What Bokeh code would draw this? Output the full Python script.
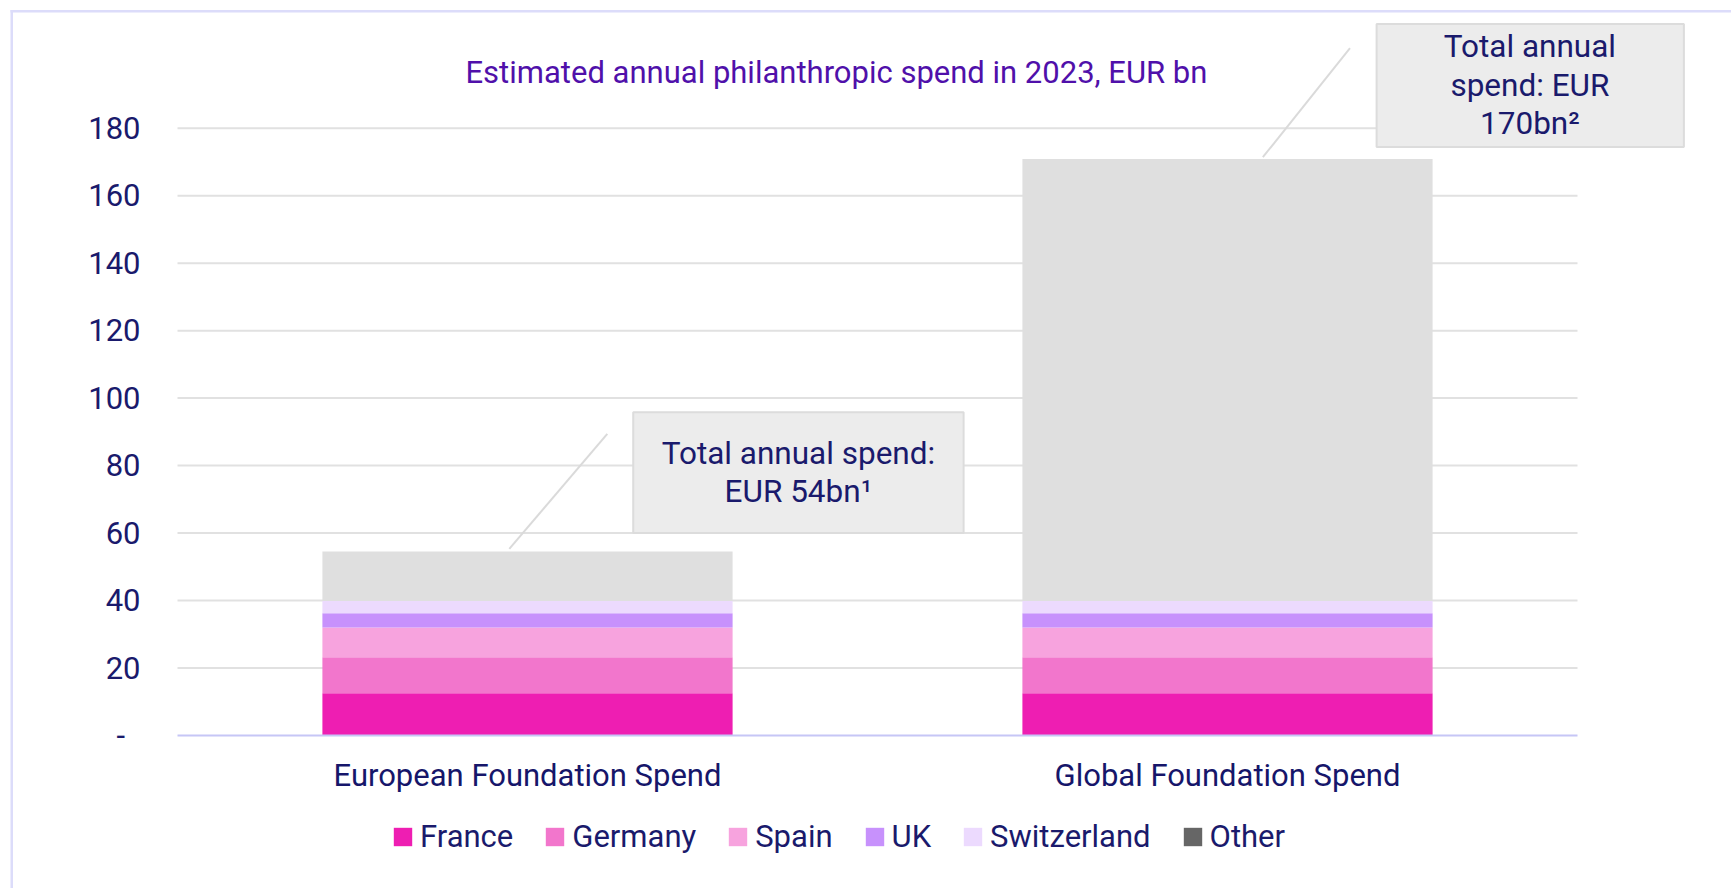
from bokeh.plotting import figure
from bokeh.models import (Range1d, FixedTicker, Legend, LegendItem,
                          BoxAnnotation, Label, Arrow, ColumnDataSource)
from bokeh.embed import file_html
from bokeh.resources import INLINE

# ---------------- data ----------------
categories = ["European Foundation Spend", "Global Foundation Spend"]
series = ["France", "Germany", "Spain", "UK", "Switzerland", "Other"]
france = [12.5, 12.5]
germany = [10.7, 10.7]
spain = [8.8, 8.8]
uk = [4.2, 4.2]
switzerland = [3.7, 3.7]
other = [14.6, 131.0]
totals_text = ["Total annual spend:\nEUR 54bn\u00b9", "Total annual\nspend: EUR\n170bn\u00b2"]
title_text = "Estimated annual philanthropic spend in 2023, EUR bn"
y_ticks = [0, 20, 40, 60, 80, 100, 120, 140, 160, 180]
y_tick_labels = {0: "-\u00a0\u00a0"}

# ---------------- layout / styles ----------------
W, H = 1731, 888
X0_PX, PX_PER_CAT = 177, 700          # where category axis starts, px per category
Y0_PX, PX_PER_UNIT = 735, 607.3 / 180  # baseline pixel row, px per EUR bn

bar_colors = ["#ee1eb2", "#f276cc", "#f7a3de", "#c791fc", "#ecdafe", "#dfdfdf"]
legend_colors = ["#ee1eb2", "#f276cc", "#f7a3de", "#c791fc", "#ecdafe", "#666666"]
NAVY = "#1a1a6c"
PURPLE = "#5010aa"
FONT = "Roboto"

cat_x = [i + 0.5 for i in range(len(categories))]
src = ColumnDataSource(dict(x=cat_x, France=france, Germany=germany, Spain=spain,
                            UK=uk, Switzerland=switzerland, Other=other))

x_range = Range1d(-X0_PX / PX_PER_CAT, (W - X0_PX) / PX_PER_CAT)
y_range = Range1d(-(H - Y0_PX) / PX_PER_UNIT, Y0_PX / PX_PER_UNIT)

p = figure(width=W, height=H, x_range=x_range, y_range=y_range,
           output_backend="svg", toolbar_location=None,
           min_border_left=0, min_border_right=0, min_border_top=0, min_border_bottom=0)
p.outline_line_color = None
p.background_fill_color = "white"
p.border_fill_color = "white"
p.xgrid.visible = False
p.ygrid.visible = False

# gridlines limited to the category span
grid_src = ColumnDataSource(dict(y=y_ticks[1:], x0=[0] * (len(y_ticks) - 1),
                                 x1=[len(categories)] * (len(y_ticks) - 1)))
p.segment(x0="x0", x1="x1", y0="y", y1="y", source=grid_src,
          line_color="#e1e1e1", line_width=2)

# y axis (fixed at x=0)
yax = p.yaxis[0]
yax.fixed_location = 0
yax.ticker = FixedTicker(ticks=y_ticks)
yax.major_label_overrides = y_tick_labels
yax.axis_line_color = None
yax.major_tick_line_color = None
yax.minor_tick_line_color = None
yax.major_tick_out = 0
yax.major_tick_in = 0
yax.major_label_standoff = 37
yax.major_label_text_font = FONT
yax.major_label_text_font_size = "31px"
yax.major_label_text_color = NAVY

# x axis (fixed at y=0)
xax = p.xaxis[0]
xax.fixed_location = 0
xax.ticker = FixedTicker(ticks=cat_x)
xax.major_label_overrides = {x: c for x, c in zip(cat_x, categories)}
xax.axis_line_color = None
xax.major_tick_line_color = None
xax.minor_tick_line_color = None
xax.major_tick_out = 0
xax.major_tick_in = 0
xax.major_label_standoff = 21
xax.major_label_text_font = FONT
xax.major_label_text_font_size = "31px"
xax.major_label_text_color = "#16166a"

# bars
renderers = p.vbar_stack(series, x="x", width=0.586, source=src,
                         fill_color=bar_colors, line_color=None)

# baseline
base_src = ColumnDataSource(dict(x0=[0], x1=[len(categories)], y=[0]))
p.segment(x0="x0", x1="x1", y0="y", y1="y", source=base_src,
          line_color="#c6c6f6", line_width=2)

# legend proxy for "Other" (legend swatch is dark grey); zero-height bar, invisible
proxy_src = ColumnDataSource(dict(x=cat_x[:1], top=[0]))
proxy = p.vbar(x="x", top="top", width=0.01, source=proxy_src,
               fill_color=legend_colors[5], line_color=None)

items = [LegendItem(label=s, renderers=[r]) for s, r in zip(series[:5], renderers[:5])]
items.append(LegendItem(label=series[5], renderers=[proxy]))
legend = Legend(items=items, orientation="horizontal", location=(391, 33),
                glyph_width=23, glyph_height=23, label_standoff=6, spacing=30,
                padding=0, margin=0, border_line_color=None, background_fill_alpha=0,
                label_text_font=FONT, label_text_font_size="31px",
                label_text_color=NAVY)
p.add_layout(legend)

# title
p.add_layout(Label(x=(465 - X0_PX) / PX_PER_CAT, y=(Y0_PX - 71.5) / PX_PER_UNIT,
                   text=title_text, text_align="left", text_baseline="alphabetic",
                   text_font=FONT, text_font_size="31px", text_color=PURPLE))

# callout boxes (data units)
box_specs = [
    dict(left=0.651, right=1.123, top=95.8, bottom=60.0, cx=0.887, cy=77.9),
    dict(left=1.713, right=2.152, top=210.9, bottom=174.4, cx=1.932, cy=192.7),
]
line_specs = [
    dict(x0=0.474, y0=55.3, x1=0.614, y1=89.4),
    dict(x0=1.5505, y0=171.4, x1=1.675, y1=203.7),
]
for ls in line_specs:
    p.add_layout(Arrow(end=None, x_start=ls["x0"], y_start=ls["y0"],
                       x_end=ls["x1"], y_end=ls["y1"],
                       line_color="#dadada", line_width=2))
for bs, txt in zip(box_specs, totals_text):
    p.add_layout(BoxAnnotation(left=bs["left"], right=bs["right"], top=bs["top"],
                               bottom=bs["bottom"], fill_color="#ececec", fill_alpha=1,
                               line_color="#dcdcdc", line_width=2, line_alpha=1))
    p.add_layout(Label(x=bs["cx"], y=bs["cy"], text=txt, text_align="center",
                       text_baseline="middle", text_font=FONT, text_font_size="31.5px",
                       text_color=NAVY, text_line_height=1.04))

# page border (top & left lavender lines)
for b in [dict(left=10, right=W, top=9.5, bottom=12),
          dict(left=10, right=12.5, top=9.5, bottom=H)]:
    p.add_layout(BoxAnnotation(left=b["left"], right=b["right"], top=b["top"], bottom=b["bottom"],
                               left_units="canvas", right_units="canvas",
                               top_units="canvas", bottom_units="canvas",
                               fill_color="#dcdcfa", fill_alpha=1, line_color=None))

open("out.html", "w").write(file_html(p, INLINE))
